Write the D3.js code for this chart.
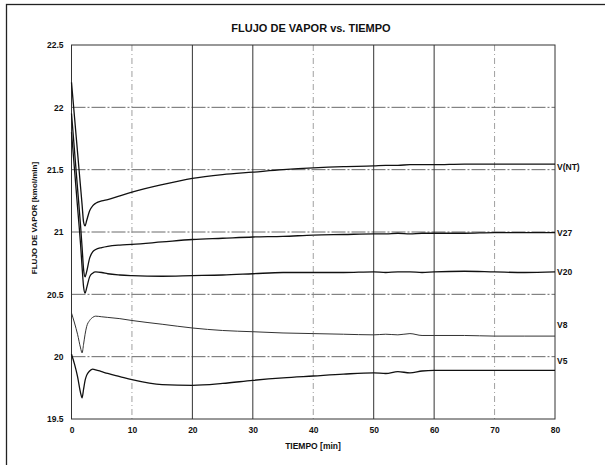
<!DOCTYPE html>
<html>
<head>
<meta charset="utf-8">
<script src="https://cdn.jsdelivr.net/npm/d3@7"></script>
<style>
  body { margin: 0; background: #fff; }
  text { font-family: "Liberation Sans", Arial, sans-serif; fill: #111; }
</style>
</head>
<body>
<div id="chart"></div>
<script>
// Data
var tiempo = [0, 0.5, 1, 1.5, 1.75, 2, 2.25, 2.5, 3, 3.5, 4, 5, 6, 8, 10, 15, 20, 25, 30, 35, 40, 45, 50, 52, 54, 56, 58, 60, 65, 70, 75, 80];

var vNT = [22.20, 21.92, 21.64, 21.36, 21.22, 21.08, 21.05, 21.09, 21.17, 21.21, 21.23, 21.25, 21.26, 21.29, 21.32, 21.38, 21.43, 21.46, 21.48, 21.50, 21.515, 21.525, 21.53, 21.535, 21.535, 21.54, 21.54, 21.54, 21.545, 21.545, 21.545, 21.545];
var v27 = [21.95, 21.65, 21.35, 21.05, 20.88, 20.70, 20.64, 20.68, 20.79, 20.84, 20.86, 20.875, 20.885, 20.895, 20.90, 20.92, 20.94, 20.95, 20.96, 20.965, 20.975, 20.98, 20.985, 20.985, 20.99, 20.985, 20.99, 20.99, 20.99, 20.995, 20.995, 20.995];
var v20 = [21.80, 21.50, 21.20, 20.90, 20.72, 20.56, 20.51, 20.55, 20.64, 20.67, 20.68, 20.675, 20.665, 20.655, 20.65, 20.645, 20.65, 20.655, 20.665, 20.675, 20.675, 20.675, 20.68, 20.675, 20.68, 20.68, 20.675, 20.68, 20.685, 20.68, 20.675, 20.68];
var v8 = [20.35, 20.27, 20.18, 20.07, 20.03, 20.10, 20.18, 20.24, 20.29, 20.315, 20.325, 20.32, 20.315, 20.305, 20.29, 20.26, 20.23, 20.21, 20.20, 20.19, 20.185, 20.18, 20.175, 20.18, 20.175, 20.185, 20.17, 20.17, 20.17, 20.165, 20.165, 20.165];
var v5 = [20.02, 19.94, 19.84, 19.71, 19.67, 19.74, 19.81, 19.85, 19.885, 19.90, 19.895, 19.88, 19.865, 19.84, 19.815, 19.775, 19.77, 19.785, 19.81, 19.83, 19.845, 19.86, 19.87, 19.865, 19.88, 19.87, 19.885, 19.89, 19.89, 19.89, 19.89, 19.89];

var seriesNames = ["V(NT)", "V27", "V20", "V8", "V5"];
var seriesValues = [vNT, v27, v20, v8, v5];
// where each name sits on the right side (in data units)
var labelY = [21.52, 20.99, 20.68, 20.255, 19.965];

var xTicks = [0, 10, 20, 30, 40, 50, 60, 70, 80];
var yTicks = [19.5, 20, 20.5, 21, 21.5, 22, 22.5];
var yTickLabels = ["19.5", "20", "20.5", "21", "21.5", "22", "22.5"];

// canvas
var svgWidth = 605;
var svgHeight = 465;

var svg = d3.select("#chart")
    .append("svg")
    .attr("width", svgWidth)
    .attr("height", svgHeight);

// outer frame (only left and top edges are visible)
svg.append("rect")
    .attr("x", 6.5)
    .attr("y", 4.5)
    .attr("width", 640)
    .attr("height", 500)
    .attr("fill", "none")
    .attr("stroke", "#222")
    .attr("stroke-width", 1.3);

var xScale = d3.scaleLinear().domain([0, 80]).range([71.5, 555]);
var yScale = d3.scaleLinear().domain([19.5, 22.5]).range([419, 45]);

// horizontal gridlines
svg.append("g")
    .selectAll("line")
    .data(yTicks.slice(1, -1))
    .enter()
    .append("line")
    .attr("x1", xScale(0))
    .attr("x2", xScale(80))
    .attr("y1", d => yScale(d))
    .attr("y2", d => yScale(d))
    .attr("stroke", "#444")
    .attr("stroke-width", 0.8)
    .attr("stroke-dasharray", "14,2,2,2");

// vertical gridlines, strong ones and faint dashed ones
svg.append("g")
    .selectAll("line")
    .data(xTicks.slice(1, -1))
    .enter()
    .append("line")
    .attr("x1", d => xScale(d))
    .attr("x2", d => xScale(d))
    .attr("y1", yScale(22.5))
    .attr("y2", yScale(19.5))
    .attr("stroke", d => (d % 30 === 10) ? "#888" : "#333")
    .attr("stroke-width", d => (d % 30 === 10) ? 0.8 : 1)
    .attr("stroke-dasharray", d => (d % 30 === 10) ? "6,3,1,3" : null);

// plot border
svg.append("rect")
    .attr("x", xScale(0))
    .attr("y", yScale(22.5))
    .attr("width", xScale(80) - xScale(0))
    .attr("height", yScale(19.5) - yScale(22.5))
    .attr("fill", "none")
    .attr("stroke", "#333")
    .attr("stroke-width", 1);

// axes (labels only, ticks drawn by gridlines)
var bottomAxis = d3.axisBottom(xScale).tickValues(xTicks).tickSize(0).tickPadding(8);
var leftAxis = d3.axisLeft(yScale).tickValues(yTicks)
    .tickFormat((d, i) => yTickLabels[i]).tickSize(0).tickPadding(8);

var xAxis = svg.append("g")
    .attr("transform", `translate(0, ${yScale(19.5)})`)
    .call(bottomAxis);
var yAxis = svg.append("g")
    .attr("transform", `translate(${xScale(0)}, 0)`)
    .call(leftAxis);

[xAxis, yAxis].forEach(a => {
    a.select(".domain").remove();
    a.selectAll("text")
        .style("font-family", "'Liberation Sans', Arial, sans-serif")
        .style("font-size", "8.5px")
        .style("font-weight", "bold")
        .attr("fill", "#111");
});

// lines
var line = d3.line()
    .x((d, i) => xScale(tiempo[i]))
    .y(d => yScale(d))
    .curve(d3.curveMonotoneX);

svg.append("g")
    .selectAll("path")
    .data(seriesValues)
    .enter()
    .append("path")
    .attr("d", d => line(d))
    .attr("fill", "none")
    .attr("stroke", (d, i) => i === 3 ? "#333" : "#111")
    .attr("stroke-width", (d, i) => i === 3 ? 1 : 1.3);

// series labels at right end
svg.append("g")
    .selectAll("text")
    .data(seriesNames)
    .enter()
    .append("text")
    .attr("x", xScale(80) + 2)
    .attr("y", (d, i) => yScale(labelY[i]) + 3)
    .attr("font-size", "8.5px")
    .attr("font-weight", "bold")
    .text(d => d);

// title
svg.append("text")
    .attr("x", 311)
    .attr("y", 32)
    .attr("text-anchor", "middle")
    .attr("font-size", "11px")
    .attr("font-weight", "bold")
    .text("FLUJO DE VAPOR vs. TIEMPO");

// axis titles
svg.append("text")
    .attr("x", 313)
    .attr("y", 449)
    .attr("text-anchor", "middle")
    .attr("font-size", "8.5px")
    .attr("font-weight", "bold")
    .text("TIEMPO [min]");

svg.append("text")
    .attr("transform", "rotate(-90)")
    .attr("x", -218)
    .attr("y", 37)
    .attr("text-anchor", "middle")
    .attr("font-size", "8px")
    .attr("font-weight", "bold")
    .text("FLUJO DE VAPOR [kmol/min]");
</script>
</body>
</html>
